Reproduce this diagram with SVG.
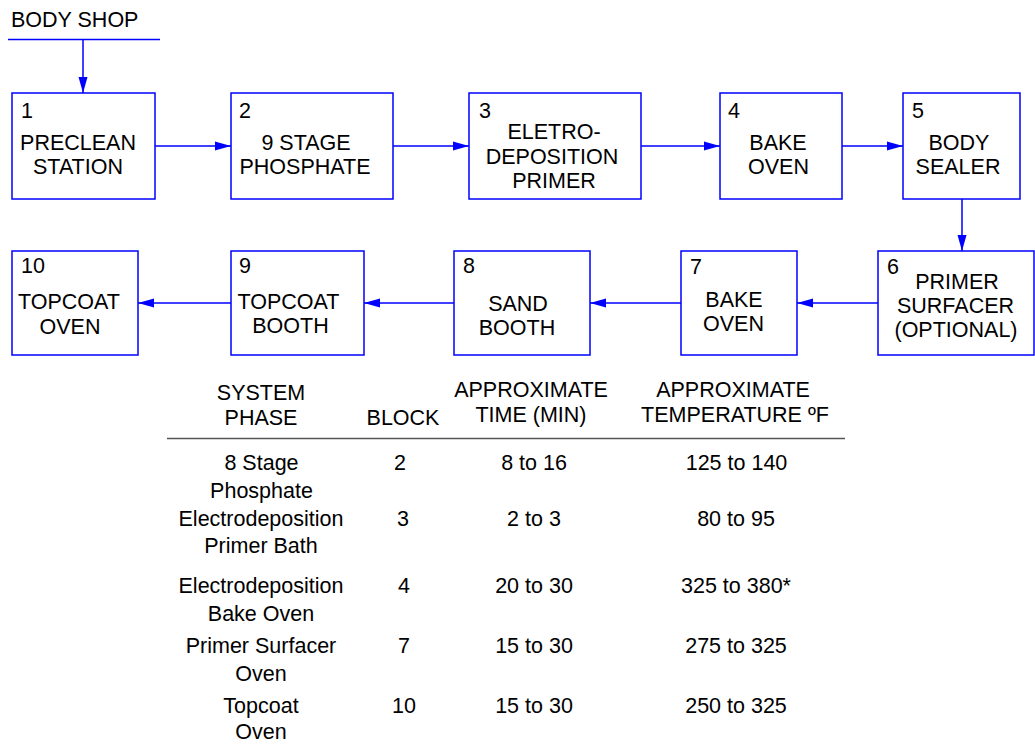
<svg xmlns="http://www.w3.org/2000/svg" width="1035" height="744" viewBox="0 0 1035 744">
<style>
text{font-family:"Liberation Sans",Arial,sans-serif;font-size:21.5px;fill:#000}
.c{text-anchor:middle}
.box{fill:#fff;stroke:#0000ff;stroke-width:1.5}
.conn{stroke:#0000ff;stroke-width:1.5;fill:none}
</style>
<defs>
<marker id="ah" viewBox="0 0 16 10" refX="16" refY="5" markerWidth="16" markerHeight="10" markerUnits="userSpaceOnUse" orient="auto">
<path d="M0,0.5 L16,5 L0,9.5 Z" fill="#0000ff"/>
</marker>
</defs>
<rect width="1035" height="744" fill="#fff"/>
<text x="11" y="27">BODY SHOP</text>
<g id="connectors">
<line class="conn" x1="8" y1="39.5" x2="160" y2="39.5"/>
<line class="conn" x1="83" y1="39.5" x2="83" y2="93" marker-end="url(#ah)"/>
<line class="conn" x1="155" y1="146" x2="231" y2="146" marker-end="url(#ah)"/>
<line class="conn" x1="393" y1="146" x2="469" y2="146" marker-end="url(#ah)"/>
<line class="conn" x1="641" y1="146" x2="720" y2="146" marker-end="url(#ah)"/>
<line class="conn" x1="842" y1="146" x2="903" y2="146" marker-end="url(#ah)"/>
<line class="conn" x1="962" y1="199" x2="962" y2="251" marker-end="url(#ah)"/>
<line class="conn" x1="878" y1="303" x2="797" y2="303" marker-end="url(#ah)"/>
<line class="conn" x1="681" y1="303" x2="590" y2="303" marker-end="url(#ah)"/>
<line class="conn" x1="454" y1="303" x2="364" y2="303" marker-end="url(#ah)"/>
<line class="conn" x1="231" y1="303" x2="138" y2="303" marker-end="url(#ah)"/>
</g>
<g id="n1"><rect class="box" x="12" y="93" width="143" height="106"/><text x="21" y="118">1</text><text class="c" x="78" y="150">PRECLEAN</text><text class="c" x="78" y="174">STATION</text></g>
<g id="n2"><rect class="box" x="231" y="93" width="162" height="106"/><text x="239" y="118">2</text><text class="c" x="306" y="150">9 STAGE</text><text class="c" x="305" y="174">PHOSPHATE</text></g>
<g id="n3"><rect class="box" x="469" y="93" width="172" height="106"/><text x="479" y="118">3</text><text class="c" x="554" y="139">ELETRO-</text><text class="c" x="552" y="163.5">DEPOSITION</text><text class="c" x="554" y="188">PRIMER</text></g>
<g id="n4"><rect class="box" x="720" y="93" width="122" height="106"/><text x="728" y="118">4</text><text class="c" x="778" y="150">BAKE</text><text class="c" x="778.5" y="174">OVEN</text></g>
<g id="n5"><rect class="box" x="903" y="93" width="117" height="106"/><text x="912" y="118">5</text><text class="c" x="959" y="150">BODY</text><text class="c" x="958" y="174">SEALER</text></g>
<g id="n6"><rect class="box" x="878" y="251" width="156" height="104"/><text x="887" y="274">6</text><text class="c" x="957" y="289">PRIMER</text><text class="c" x="955.5" y="313">SURFACER</text><text class="c" x="956" y="337">(OPTIONAL)</text></g>
<g id="n7"><rect class="box" x="681" y="251" width="116" height="104"/><text x="690" y="274">7</text><text class="c" x="734" y="307">BAKE</text><text class="c" x="733.5" y="331">OVEN</text></g>
<g id="n8"><rect class="box" x="454" y="251" width="136" height="104"/><text x="463" y="273">8</text><text class="c" x="518" y="311">SAND</text><text class="c" x="517" y="335">BOOTH</text></g>
<g id="n9"><rect class="box" x="231" y="251" width="133" height="104"/><text x="239" y="273">9</text><text class="c" x="288.5" y="309">TOPCOAT</text><text class="c" x="290.5" y="333">BOOTH</text></g>
<g id="n10"><rect class="box" x="12" y="251" width="126" height="104"/><text x="21" y="273">10</text><text class="c" x="69" y="309">TOPCOAT</text><text class="c" x="70" y="334">OVEN</text></g>
<g id="table">
<text class="c" x="261" y="400">SYSTEM</text>
<text class="c" x="261" y="425">PHASE</text>
<text class="c" x="403" y="425">BLOCK</text>
<text class="c" x="531" y="397">APPROXIMATE</text>
<text class="c" x="531" y="422">TIME (MIN)</text>
<text class="c" x="733" y="397">APPROXIMATE</text>
<text class="c" x="735" y="422">TEMPERATURE ºF</text>
<line x1="167" y1="438.5" x2="845" y2="438.5" stroke="#555" stroke-width="1.6"/>
<text class="c" x="261.5" y="470">8 Stage</text>
<text class="c" x="261.5" y="498">Phosphate</text>
<text class="c" x="400" y="470">2</text>
<text class="c" x="534" y="470">8 to 16</text>
<text class="c" x="736.5" y="470">125 to 140</text>
<text class="c" x="261" y="526">Electrodeposition</text>
<text class="c" x="261" y="553">Primer Bath</text>
<text class="c" x="403" y="526">3</text>
<text class="c" x="534" y="526">2 to 3</text>
<text class="c" x="736" y="526">80 to 95</text>
<text class="c" x="261" y="592.5">Electrodeposition</text>
<text class="c" x="261" y="621">Bake Oven</text>
<text class="c" x="404" y="592.5">4</text>
<text class="c" x="534" y="592.5">20 to 30</text>
<text class="c" x="736" y="592.5">325 to 380*</text>
<text class="c" x="261" y="653">Primer Surfacer</text>
<text class="c" x="261" y="681">Oven</text>
<text class="c" x="404" y="653">7</text>
<text class="c" x="534" y="653">15 to 30</text>
<text class="c" x="736" y="653">275 to 325</text>
<text class="c" x="261" y="713">Topcoat</text>
<text class="c" x="261" y="739">Oven</text>
<text class="c" x="404" y="713">10</text>
<text class="c" x="534" y="713">15 to 30</text>
<text class="c" x="736" y="713">250 to 325</text>
</g>
</svg>
